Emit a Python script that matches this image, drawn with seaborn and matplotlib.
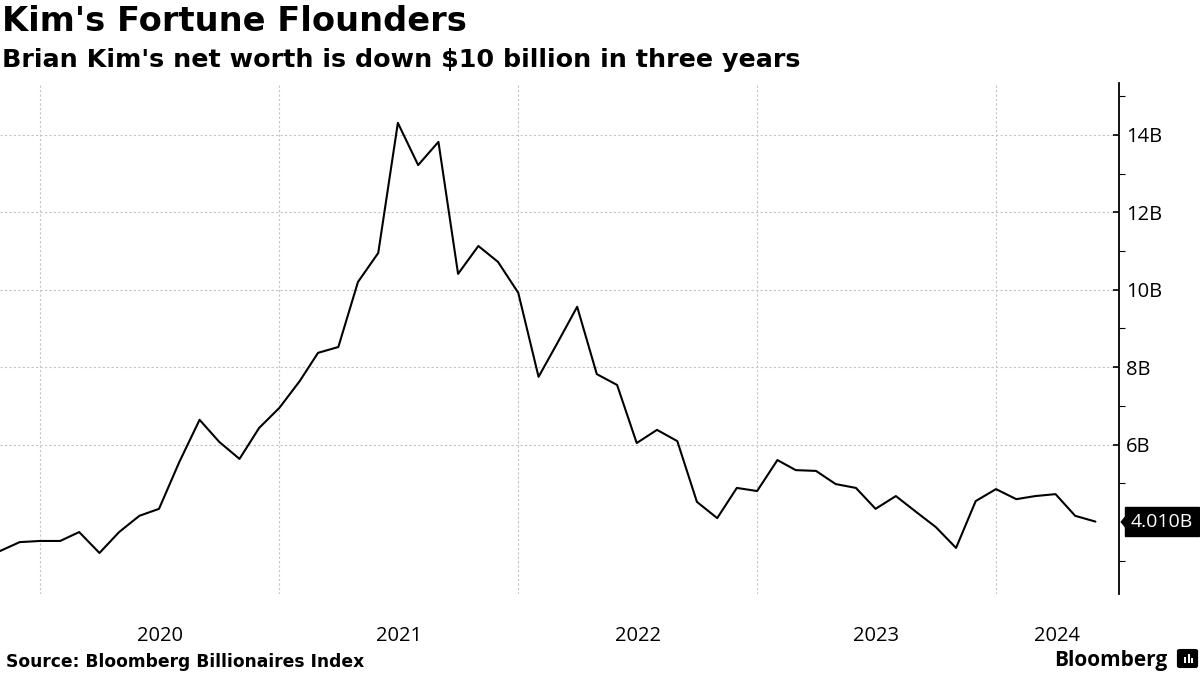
import matplotlib.pyplot as plt
import matplotlib.dates as mdates
import matplotlib.ticker as mticker
import matplotlib.transforms as mtransforms
from matplotlib.patches import FancyBboxPatch, Rectangle
import seaborn as sns
import pandas as pd

# monthly net worth, $B (Nov 2019 - Jun 2024)
months = pd.date_range('2019-11-01', periods=56, freq='MS')
net_worth = [3.25, 3.48, 3.51, 3.51, 3.74, 3.20, 3.74, 4.16, 4.34, 5.55,
             6.64, 6.07, 5.63, 6.43, 6.95, 7.64, 8.37, 8.52, 10.20, 10.95,
             14.31, 13.22, 13.82, 10.41, 11.13, 10.72, 9.92, 7.75, 8.60, 9.56,
             7.82, 7.54, 6.04, 6.38, 6.09, 4.52, 4.10, 4.88, 4.80, 5.60,
             5.34, 5.32, 4.98, 4.88, 4.34, 4.67, 4.26, 3.87, 3.33, 4.54,
             4.85, 4.59, 4.67, 4.72, 4.16, 4.01]
y_ticks = [6, 8, 10, 12, 14]
year_labels = [2020, 2021, 2022, 2023, 2024]
last_label = '4.010B'

title = "Kim's Fortune Flounders"
subtitle = "Brian Kim's net worth is down $10 billion in three years"
source = 'Source: Bloomberg Billionaires Index'

df = pd.DataFrame({'date': months, 'value': net_worth})

sns.set_style('white')
plt.rcParams['font.family'] = ['DejaVu Sans']
plt.rcParams['text.color'] = 'black'
plt.rcParams['xtick.color'] = 'black'
plt.rcParams['ytick.color'] = 'black'

fig = plt.figure(figsize=(12, 6.75), dpi=100)
ax = fig.add_axes([0.0, 0.12, 0.9325, 0.757])

sns.lineplot(data=df, x='date', y='value', ax=ax, color='black', linewidth=1.5)

x_min, x_max = pd.Timestamp('2019-11-01'), pd.Timestamp('2024-07-07')
ax.set_xlim(x_min, x_max)
ax.set_ylim(2.14, 15.34)

# x axis: gridlines at year start, labels centred on the visible part of each year
ax.xaxis.set_major_locator(mdates.YearLocator())
ax.xaxis.set_major_formatter(mticker.NullFormatter())
mids = []
for yr in year_labels:
    a = max(pd.Timestamp(f'{yr}-01-01'), x_min)
    b = min(pd.Timestamp(f'{yr + 1}-01-01'), x_max)
    mids.append(mdates.date2num(a + (b - a) / 2))
ax.xaxis.set_minor_locator(mticker.FixedLocator(mids))
ax.xaxis.set_minor_formatter(mticker.FixedFormatter([str(y) for y in year_labels]))
ax.tick_params(axis='x', which='both', length=0, pad=23, labelsize=14.5,
               labelfontfamily='Open Sans')

# y axis on the right
ax.yaxis.tick_right()
ax.set_yticks(y_ticks)
ax.yaxis.set_major_formatter(mticker.FuncFormatter(lambda v, p: f'{v:.0f}B'))
ax.yaxis.set_minor_locator(mticker.FixedLocator([3, 5, 7, 9, 11, 13, 15]))
ax.tick_params(axis='y', which='major', direction='in', length=4, width=1.2,
               pad=5, labelsize=14.5, labelfontfamily='Open Sans')
ax.tick_params(axis='y', which='minor', direction='out', length=4, width=0.8)

ax.grid(True, which='major', color='#c4c4c4', linestyle=(0, (2, 2)), linewidth=0.8)
ax.grid(False, which='minor')
ax.set_xlabel('')
ax.set_ylabel('')

for side in ['top', 'left', 'bottom']:
    ax.spines[side].set_visible(False)
ax.spines['right'].set_linewidth(1.3)
ax.spines['right'].set_color('black')

# last value tag
ax.annotate(last_label, xy=(1.0, net_worth[-1]), xycoords=('axes fraction', 'data'),
            xytext=(8.6, 0), textcoords='offset points', va='center', ha='left',
            color='white', fontsize=14, family='Open Sans', annotation_clip=False,
            bbox=dict(boxstyle='square,pad=0.3', fc='black', ec='black'))
tip = mtransforms.offset_copy(ax.get_yaxis_transform(), fig=fig, x=3.4, y=0, units='points')
ax.plot([1.0], [net_worth[-1]], transform=tip, clip_on=False, color='black',
        marker=[(-0.4, 0), (0.4, 1), (0.4, -1)], markersize=13, linestyle='none')

fig.text(0.002, 0.968, title, fontsize=24.2, fontweight='bold', va='center')
fig.text(0.002, 0.911, subtitle, fontsize=18.3, fontweight='bold', va='center')
fig.text(0.005, 0.019, source, fontsize=12.3, fontweight='bold', va='center')
fig.text(0.973, 0.022, 'Bloomberg', fontsize=15, fontweight='bold',
         va='center', ha='right', family='Open Sans')

# little logo mark
fig.patches.append(FancyBboxPatch((1180 / 1200, 9 / 675), 15 / 1200, 15 / 675,
                                  boxstyle='round,pad=0.002', transform=fig.transFigure,
                                  fc='black', ec='black'))
for bx, bh in [(1184, 6), (1187.5, 9), (1191, 5)]:
    fig.patches.append(Rectangle((bx / 1200, 12 / 675), 2 / 1200, bh / 675,
                                 transform=fig.transFigure, fc='white', ec='none'))

fig.savefig('out.png', dpi=100)
